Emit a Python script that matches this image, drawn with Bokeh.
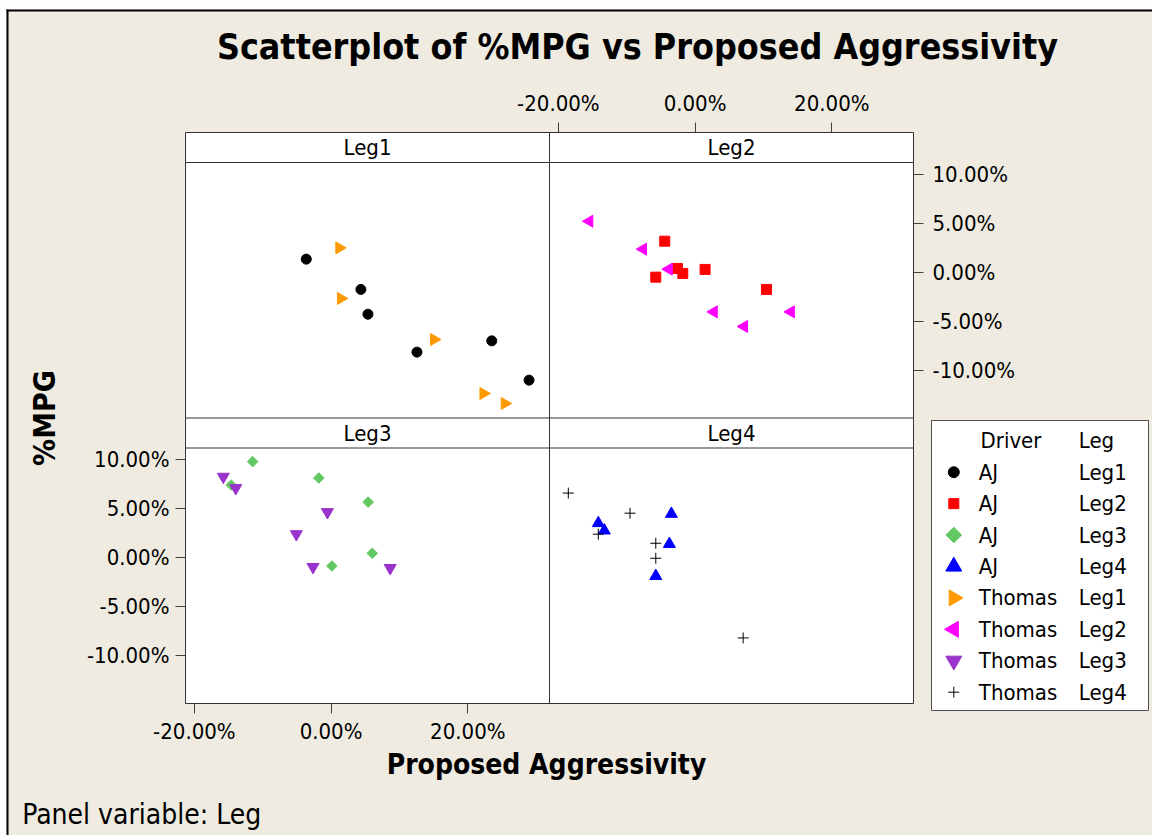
import math
from bokeh.plotting import figure
from bokeh.models import Range1d, LinearAxis, FixedTicker, Span, Label, GridBox
from bokeh.embed import file_html
from bokeh.resources import INLINE
from bokeh.core.properties import value

# ---------------- data (values in percent) ----------------
AJ_LEG1_X = [-3.63, 4.36, 5.39, 12.56, 23.5, 28.96]
AJ_LEG1_Y = [1.36, -1.73, -4.26, -8.13, -6.98, -10.99]
TH_LEG1_X = [1.2, 1.43, 15.05, 22.28, 25.4]
TH_LEG1_Y = [2.51, -2.65, -6.84, -12.35, -13.37]

AJ_LEG2_X = [-4.44, -5.75, -2.59, -1.8, 1.46, 10.44]
AJ_LEG2_Y = [3.19, -0.48, 0.41, -0.1, 0.31, -1.73]
TH_LEG2_X = [-15.47, -7.61, -3.85, 2.74, 7.17, 14.01]
TH_LEG2_Y = [5.23, 2.38, 0.34, -4.02, -5.51, -4.02]

AJ_LEG3_X = [-11.48, -14.61, -1.8, 5.42, 6.02, 0.12]
AJ_LEG3_Y = [9.83, 7.44, 8.16, 5.7, 0.48, -0.82]
TH_LEG3_X = [-15.77, -13.95, -5.08, -0.54, -2.65, 8.64]
TH_LEG3_Y = [8.29, 7.13, 2.43, 4.68, -0.92, -1.02]

AJ_LEG4_X = [-14.16, -13.28, -3.47, -3.76, -5.75]
AJ_LEG4_Y = [3.55, 2.8, 4.5, 1.43, -1.84]
TH_LEG4_X = [-18.55, -9.52, -14.16, -5.75, -5.75, 7.03]
TH_LEG4_Y = [6.62, 4.57, 2.43, 1.5, -0.03, -8.16]

PANELS = ["Leg1", "Leg2", "Leg3", "Leg4"]
DRIVERS = ["AJ", "Thomas"]
X_TICKS = [-20, 0, 20]
X_TICK_LABELS = ["-20.00%", "0.00%", "20.00%"]
Y_TICKS = [-10, -5, 0, 5, 10]
Y_TICK_LABELS = ["-10.00%", "-5.00%", "0.00%", "5.00%", "10.00%"]

TITLE = "Scatterplot of %MPG vs Proposed Aggressivity"
X_LABEL = "Proposed Aggressivity"
Y_LABEL = "%MPG"
FOOTNOTE = "Panel variable: Leg"

SERIES = [
    ("AJ", "Leg1", AJ_LEG1_X, AJ_LEG1_Y),
    ("AJ", "Leg2", AJ_LEG2_X, AJ_LEG2_Y),
    ("AJ", "Leg3", AJ_LEG3_X, AJ_LEG3_Y),
    ("AJ", "Leg4", AJ_LEG4_X, AJ_LEG4_Y),
    ("Thomas", "Leg1", TH_LEG1_X, TH_LEG1_Y),
    ("Thomas", "Leg2", TH_LEG2_X, TH_LEG2_Y),
    ("Thomas", "Leg3", TH_LEG3_X, TH_LEG3_Y),
    ("Thomas", "Leg4", TH_LEG4_X, TH_LEG4_Y),
]

# ---------------- styles ----------------
BG = "#EFEBE1"
FONT = "DejaVu Sans Condensed"
LINE = "#333333"
STYLE = {
    ("AJ", "Leg1"): dict(marker="circle", color="#000000", size=10, angle=0.0, lsize=11),
    ("AJ", "Leg2"): dict(marker="square", color="#FF0000", size=10, angle=0.0, lsize=10),
    ("AJ", "Leg3"): dict(marker="square", color="#63C863", size=7.5, angle=math.pi / 4, lsize=11),
    ("AJ", "Leg4"): dict(marker="triangle", color="#0000FF", size=12, angle=0.0, lsize=16),
    ("Thomas", "Leg1"): dict(marker="triangle", color="#FF9900", size=12, angle=-math.pi / 2, lsize=16),
    ("Thomas", "Leg2"): dict(marker="triangle", color="#FF00FF", size=12, angle=math.pi / 2, lsize=16),
    ("Thomas", "Leg3"): dict(marker="inverted_triangle", color="#9933CC", size=12, angle=0.0, lsize=16),
    ("Thomas", "Leg4"): dict(marker="cross", color="#000000", size=11, angle=0.0, lsize=11),
}

W, H = 1152, 835
FL, FT, FW, FH = 185, 132, 728, 571
STRIP = 30.0
ROW = FH / 2.0
PLOT = ROW - STRIP
XMIN, XMAX = -21.3, 31.95
YMIN, YMAX = -14.85, 11.22
XW = XMAX - XMIN
K = (YMAX - YMIN) / PLOT

PANEL_RANGES = {
    "Leg1": ("default", "default"),
    "Leg2": ("xr", "default"),
    "Leg3": ("default", "yb"),
    "Leg4": ("xr", "yb"),
}

# ---------------- main panels figure ----------------
p = figure(width=W, height=H, output_backend="svg", toolbar_location=None,
           x_axis_location=None, y_axis_location=None,
           x_range=Range1d(XMIN, XMIN + 2 * XW),
           y_range=Range1d(YMAX - (FH - STRIP) * K, YMAX + STRIP * K),
           min_border_left=FL, min_border_right=W - FL - FW,
           min_border_top=FT, min_border_bottom=H - FT - FH)
p.frame_align = False
p.extra_x_ranges = {"xr": Range1d(XMIN - XW, XMAX)}
p.extra_y_ranges = {"yb": Range1d(YMIN, YMAX + (ROW + STRIP) * K)}
p.border_fill_color = BG
p.background_fill_color = "white"
p.outline_line_color = LINE
p.outline_line_width = 1
p.grid.visible = False


def style_axis(ax, ticks, labels, standoff):
    ax.ticker = FixedTicker(ticks=ticks, minor_ticks=[])
    ax.major_label_overrides = {t: l for t, l in zip(ticks, labels)}
    ax.axis_line_color = None
    ax.major_tick_out = 10
    ax.major_tick_in = 0
    ax.minor_tick_out = 0
    ax.minor_tick_in = 0
    ax.major_tick_line_color = "#404040"
    ax.major_label_text_font = FONT
    ax.major_label_text_font_size = "22px"
    ax.major_label_text_color = "black"
    ax.major_label_standoff = standoff


ax_top = LinearAxis(x_range_name="xr")
style_axis(ax_top, X_TICKS, X_TICK_LABELS, 7)
p.add_layout(ax_top, "above")
ax_bot = LinearAxis()
style_axis(ax_bot, X_TICKS, X_TICK_LABELS, 5)
p.add_layout(ax_bot, "below")
ax_right = LinearAxis()
style_axis(ax_right, Y_TICKS, Y_TICK_LABELS, 9)
p.add_layout(ax_right, "right")
ax_left = LinearAxis(y_range_name="yb")
style_axis(ax_left, Y_TICKS, Y_TICK_LABELS, 6)
p.add_layout(ax_left, "left")

# panel dividers and strip lines
p.add_layout(Span(location=XMAX, dimension="height", line_color=LINE, line_width=1))
p.add_layout(Span(location=YMIN, dimension="width", line_color=LINE, line_width=1))
p.add_layout(Span(location=YMAX, dimension="width", line_color=LINE, line_width=1))
p.add_layout(Span(location=YMAX, dimension="width", y_range_name="yb", line_color=LINE, line_width=1))

# strip labels (text is centred on its anchor)
for name in PANELS:
    xr, yr = PANEL_RANGES[name]
    p.add_layout(Label(x=(XMIN + XMAX) / 2, y=YMAX, x_range_name=xr, y_range_name=yr,
                       y_offset=15, text=name, text_align="center", text_baseline="alphabetic",
                       text_font=FONT, text_font_size="22px", text_color="black"))

# data
for drv, leg, xs, ys in SERIES:
    st = STYLE[(drv, leg)]
    xr, yr = PANEL_RANGES[leg]
    p.scatter(xs, ys, marker=st["marker"], size=st["size"], angle=st["angle"],
              fill_color=st["color"], line_color=st["color"], line_width=1,
              x_range_name=xr, y_range_name=yr)

# ---------------- overlay for page texts and legend ----------------
ov = figure(width=W, height=H, output_backend="svg", toolbar_location=None, title=None,
            x_axis_location=None, y_axis_location=None,
            x_range=Range1d(0, W), y_range=Range1d(H, 0), min_border=0)
ov.frame_align = False
ov.background_fill_color = None
ov.border_fill_color = None
ov.outline_line_color = None
ov.grid.visible = False

# window edge: white strip, then black frame line
ov.quad(left=0, right=W, top=0, bottom=9, fill_color="white", line_color=None)
ov.quad(left=0, right=6, top=0, bottom=H, fill_color="white", line_color=None)
ov.quad(left=6, right=W, top=9, bottom=11, fill_color="black", line_color=None)
ov.quad(left=6, right=8, top=9, bottom=H, fill_color="black", line_color=None)

ov.add_layout(Label(x=637, y=46, text=TITLE, text_align="center", text_baseline="alphabetic",
                    text_font=FONT, text_font_style="bold", text_font_size="35.5px", text_color="black"))
ov.add_layout(Label(x=546, y=763.5, text=X_LABEL, text_align="center", text_baseline="alphabetic",
                    text_font=FONT, text_font_style="bold", text_font_size="28px", text_color="black"))
ov.add_layout(Label(x=44, y=417.5, text=Y_LABEL, angle=math.pi / 2, text_align="center",
                    text_baseline="alphabetic", text_font=FONT, text_font_style="bold",
                    text_font_size="30px", text_color="black"))
ov.add_layout(Label(x=21.7, y=814, text=FOOTNOTE, text_align="left", text_baseline="alphabetic",
                    text_font=FONT, text_font_size="28px", text_color="black"))

# legend box
LG_L, LG_R, LG_T, LG_B = 931, 1148, 420, 710
ov.quad(left=LG_L, right=LG_R, top=LG_T, bottom=LG_B, fill_color="white",
        line_color="#505050", line_width=1)
ROW0, PITCH = 471.7, 31.43
lx = [953.3] * len(SERIES)
ly = [ROW0 + i * PITCH for i in range(len(SERIES))]
ov.scatter(lx, ly,
           marker=[STYLE[(d, l)]["marker"] for d, l, _, _ in SERIES],
           size=[STYLE[(d, l)]["lsize"] for d, l, _, _ in SERIES],
           angle=[STYLE[(d, l)]["angle"] for d, l, _, _ in SERIES],
           fill_color=[STYLE[(d, l)]["color"] for d, l, _, _ in SERIES],
           line_color=[STYLE[(d, l)]["color"] for d, l, _, _ in SERIES])
tx = [980, 1078.3] + [978.3] * len(SERIES) + [1078.3] * len(SERIES)
ty = [440, 440] + ly + ly
tt = ["Driver", "Leg"] + [d for d, _, _, _ in SERIES] + [l for _, l, _, _ in SERIES]
ov.text(tx, ty, text=tt, text_font=value(FONT), text_font_size=value("22px"),
        text_align="left", text_baseline="alphabetic", text_color="black")

layout = GridBox(children=[(p, 0, 0), (ov, 0, 0)])
open("out.html", "w").write(file_html(layout, INLINE))
